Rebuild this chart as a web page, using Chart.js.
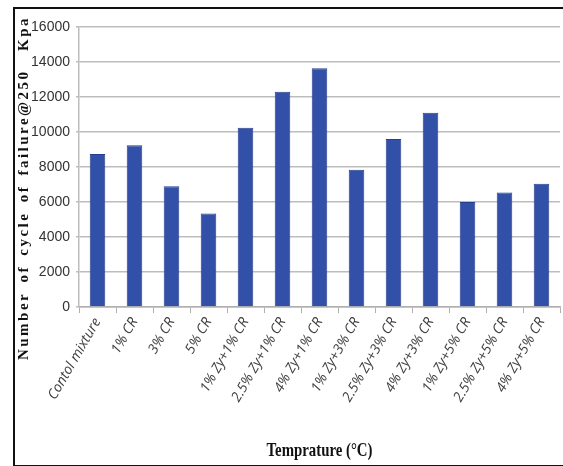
<!DOCTYPE html>
<html>
<head>
<meta charset="utf-8">
<script src="https://cdn.jsdelivr.net/npm/chart.js@4.4.1/dist/chart.umd.min.js"></script>
<style>
  html, body { margin: 0; padding: 0; background: #fff; overflow: hidden; }
  #frame { position: absolute; left: 13px; top: 7px; width: 600px; height: 456px; border: 2px solid #111; }
  #wrap { position: absolute; left: 0; top: 0; width: 563px; height: 466px; }
</style>
</head>
<body>
<div id="frame"></div>
<div id="wrap"><canvas id="chart" width="563" height="466"></canvas></div>
<script>
// categories and values
const mixes = ["Contol mixture", "1% CR", "3% CR", "5% CR", "1% Zy+1% CR", "2.5% Zy+1% CR", "4% Zy+1% CR",
    "1% Zy+3% CR", "2.5% Zy+3% CR", "4% Zy+3% CR", "1% Zy+5% CR", "2.5% Zy+5% CR", "4% Zy+5% CR"];
const cycles = [8750, 9250, 6900, 5350, 10250, 12300, 13650, 7850, 9600, 11100, 6000, 6550, 7050];
const yTitle = "Number of cycle of failure@250  Kpa";
const xTitle = "Temprature (\u00B0C)";

// axis titles drawn by hand (letter spacing / condensed look)
const titles = {
    id: 'titles',
    afterDraw(chart) {
        const ctx = chart.ctx;
        const area = chart.chartArea;
        ctx.save();
        ctx.fillStyle = '#111';
        ctx.font = 'bold 15px "Liberation Serif", serif';
        ctx.letterSpacing = '2.5px';
        ctx.wordSpacing = '3px';
        ctx.textAlign = 'center';
        ctx.textBaseline = 'middle';
        ctx.translate(24, 188);
        ctx.rotate(-Math.PI / 2);
        ctx.fillText(yTitle, 0, 0);
        ctx.restore();

        ctx.save();
        ctx.fillStyle = '#111';
        ctx.font = 'bold 19px "Liberation Serif", serif';
        ctx.textAlign = 'center';
        ctx.textBaseline = 'middle';
        ctx.translate((area.left + area.right) / 2, 451);
        ctx.scale(0.78, 1);
        ctx.fillText(xTitle, 0, 0);
        ctx.restore();
    }
};

new Chart(document.getElementById('chart'), {
    type: 'bar',
    data: {
        labels: mixes,
        datasets: [{
            data: cycles,
            backgroundColor: '#3350a8',
            borderColor: '#243f8f',
            borderWidth: 1,
            barPercentage: 0.42,
            categoryPercentage: 1
        }]
    },
    options: {
        responsive: false,
        animation: false,
        layout: { padding: { left: 0, top: 27, right: 3, bottom: 0 } },
        plugins: {
            legend: { display: false },
            tooltip: { enabled: false }
        },
        scales: {
            x: {
                afterFit(scale) { scale.height = 159; },
                grid: { drawOnChartArea: false, drawTicks: true, tickLength: 6, color: '#b0b0b0', lineWidth: 1 },
                border: { color: '#b0b0b0', width: 1.5 },
                ticks: {
                    minRotation: 60, maxRotation: 60, autoSkip: false,
                    color: '#404040',
                    font: { family: '"Open Sans", "Liberation Sans", sans-serif', size: 14, style: 'italic' },
                    padding: 2
                }
            },
            y: {
                min: 0, max: 16000,
                afterFit(scale) { scale.width = 79; },
                grid: { color: '#bdbdbd', lineWidth: 1.5, tickLength: 3 },
                border: { color: '#bdbdbd', width: 1.5 },
                ticks: {
                    stepSize: 2000,
                    color: '#333',
                    padding: 6,
                    callback: (v) => String(v),
                    font: { family: '"Liberation Sans Narrow", "Liberation Sans", sans-serif', size: 14 }
                }
            }
        }
    },
    plugins: [titles]
});
</script>
</body>
</html>
